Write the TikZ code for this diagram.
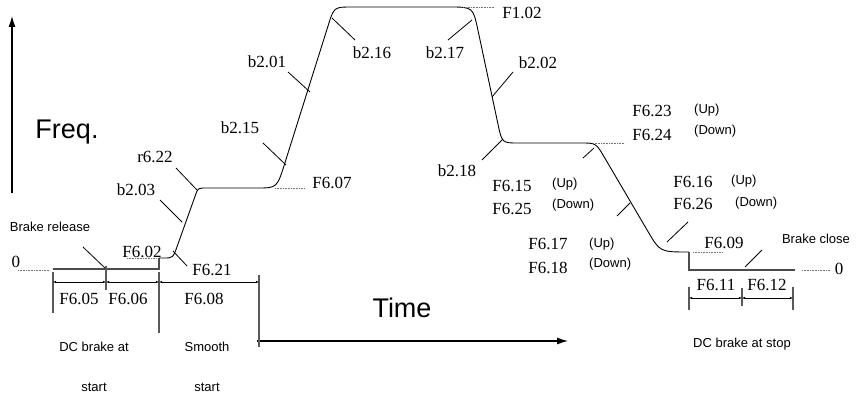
\documentclass[tikz,border=0pt]{standalone}
\usepackage{fontspec}
\setmainfont{Liberation Serif}
\setsansfont{Liberation Sans}
\usetikzlibrary{arrows.meta,calc}
\begin{document}
\begin{tikzpicture}[x=1pt,y=-1pt,
  fcurve/.style={line width=0.9pt,black},
  gline/.style={line width=1.4pt,black!70},
  leader/.style={line width=0.8pt,black},
  dotl/.style={line width=0.9pt,black!55,dash pattern=on 0.8pt off 0.8pt},
  dimv/.style={line width=1.3pt,black!65},
  dimline/.style={line width=0.7pt,black,{Latex[length=3pt,width=2.4pt]}-{Latex[length=3pt,width=2.4pt]}},
  lbl/.style={font=\fontsize{17}{17}\selectfont, inner sep=0pt, text height=11.5pt, text depth=0pt},
  sm/.style={font=\sffamily\fontsize{13}{13}\selectfont, inner sep=0pt, text height=9.3pt, text depth=0pt},
  bigtxt/.style={font=\sffamily\fontsize{27}{27}\selectfont, inner sep=0pt, anchor=base},
  axarrow/.style={line width=1.1pt,-{Latex[length=11pt,width=7pt]}}
]
\useasboundingbox (0,0) rectangle (857,396);

% axes
\coordinate (fbot) at (12,193); \coordinate (ftop) at (12,16);
\draw[axarrow] (fbot) -- (ftop);
\coordinate (tl) at (257,341); \coordinate (tr) at (568,341);
\draw[axarrow] (tl) -- (tr);
\node[bigtxt] (freq) at (67,138) {Freq.};
\node[bigtxt] (time) at (402,317) {Time};

% curve corner points
\coordinate (b0) at (53,269); \coordinate (b1) at (159,269); \coordinate (b2) at (159,258);
\coordinate (c1) at (173,258); \coordinate (c2) at (198,188);
\coordinate (c3) at (277,188); \coordinate (c4) at (334,7);
\coordinate (c5) at (473,7); \coordinate (c6) at (502,143);
\coordinate (c7) at (596,143); \coordinate (c8) at (660,252);
\coordinate (e1) at (689,252); \coordinate (e2) at (689,270); \coordinate (e3) at (795,270);

\draw[gline] (b0) -- (b1) -- (b2);
\draw[fcurve] (b2) -- ($(c1)!9pt!(b2)$) .. controls (c1) .. ($(c1)!13pt!(c2)$)
 -- ($(c2)!8pt!(c1)$) .. controls (c2) .. ($(c2)!8pt!(c3)$)
 -- ($(c3)!20pt!(c2)$) .. controls (c3) .. ($(c3)!26pt!(c4)$)
 -- ($(c4)!19pt!(c3)$) .. controls (c4) .. ($(c4)!18pt!(c5)$)
 -- ($(c5)!24pt!(c4)$) .. controls (c5) .. ($(c5)!24pt!(c6)$)
 -- ($(c6)!20pt!(c5)$) .. controls (c6) .. ($(c6)!16pt!(c7)$)
 -- ($(c7)!15pt!(c6)$) .. controls (c7) .. ($(c7)!17pt!(c8)$)
 -- ($(c8)!24pt!(c7)$) .. controls (c8) .. (e1);
\draw[gline] (e1) -- (e2) -- (e3);

% dotted level lines
\coordinate (z0a) at (18,270); \coordinate (z0b) at (50,270);
\draw[dotl] (z0a) -- (z0b);
\coordinate (d02a) at (127,258); \coordinate (d02b) at (157,258);
\draw[dotl] (d02a) -- (d02b);
\coordinate (d07a) at (275,188); \coordinate (d07b) at (305,188);
\draw[dotl] (d07a) -- (d07b);
\coordinate (d102a) at (463,7); \coordinate (d102b) at (495,7);
\draw[dotl] (d102a) -- (d102b);
\coordinate (d24a) at (593,143); \coordinate (d24b) at (625,143);
\draw[dotl] (d24a) -- (d24b);
\coordinate (d09a) at (693,252); \coordinate (d09b) at (723,252);
\draw[dotl] (d09a) -- (d09b);
\coordinate (z1a) at (802,270); \coordinate (z1b) at (830,270);
\draw[dotl] (z1a) -- (z1b);

% leader ticks
\coordinate (br1) at (83,247); \coordinate (br2) at (106,269);
\draw[leader] (br1) -- (br2);
\coordinate (t21a) at (173,251); \coordinate (t21b) at (187,266);
\draw[leader] (t21a) -- (t21b);
\coordinate (t03a) at (160,200); \coordinate (t03b) at (182,222);
\draw[leader] (t03a) -- (t03b);
\coordinate (t22a) at (176,168); \coordinate (t22b) at (197,190);
\draw[leader] (t22a) -- (t22b);
\coordinate (t15a) at (263,143); \coordinate (t15b) at (286,165);
\draw[leader] (t15a) -- (t15b);
\coordinate (t01a) at (288,72); \coordinate (t01b) at (310,92);
\draw[leader] (t01a) -- (t01b);
\coordinate (t16a) at (332,18); \coordinate (t16b) at (355,40);
\draw[leader] (t16a) -- (t16b);
\coordinate (t17a) at (472,20); \coordinate (t17b) at (448,40);
\draw[leader] (t17a) -- (t17b);
\coordinate (t02a) at (492,97); \coordinate (t02b) at (513,72);
\draw[leader] (t02a) -- (t02b);
\coordinate (t18a) at (503,139); \coordinate (t18b) at (482,160);
\draw[leader] (t18a) -- (t18b);
\coordinate (tu15a) at (594,148); \coordinate (tu15b) at (583,158);
\draw[leader] (tu15a) -- (tu15b);
\coordinate (tu17a) at (630,203); \coordinate (tu17b) at (617,216);
\draw[leader] (tu17a) -- (tu17b);
\coordinate (tu16a) at (667,242); \coordinate (tu16b) at (688,222);
\draw[leader] (tu16a) -- (tu16b);
\coordinate (bc1) at (745,267); \coordinate (bc2) at (762,250);
\draw[leader] (bc1) -- (bc2);

% left dimensions
\coordinate (v1t) at (53,272); \coordinate (v1b) at (53,313);
\coordinate (v2t) at (106,266); \coordinate (v2b) at (106,290);
\coordinate (v3t) at (159,272); \coordinate (v3b) at (159,333);
\coordinate (v4t) at (259,275); \coordinate (v4b) at (259,347);
\draw[dimv] (v1t) -- (v1b);
\draw[dimv] (v2t) -- (v2b);
\draw[dimv] (v3t) -- (v3b);
\draw[dimv] (v4t) -- (v4b);
\coordinate (h1) at (53,282); \coordinate (h2) at (106,282);
\coordinate (h3) at (159,282); \coordinate (h4) at (259,282);
\draw[dimline] (h1) -- (h2);
\draw[dimline] (h2) -- (h3);
\draw[dimline] (h3) -- (h4);

% right dimensions
\coordinate (w1t) at (689,287); \coordinate (w1b) at (689,310);
\coordinate (w2t) at (742,288); \coordinate (w2b) at (742,306);
\coordinate (w3t) at (793,287); \coordinate (w3b) at (793,310);
\draw[dimv] (w1t) -- (w1b);
\draw[dimv] (w2t) -- (w2b);
\draw[dimv] (w3t) -- (w3b);
\coordinate (k1) at (689,298); \coordinate (k2) at (742,298); \coordinate (k3) at (793,298);
\draw[dimline] (k1) -- (k2);
\draw[dimline] (k2) -- (k3);

% serif labels
\node[lbl] (zl) at (16,262) {0};
\node[lbl] (zr) at (839,269) {0};
\node[lbl] (f602) at (142,252) {F6.02};
\node[lbl] (f621) at (212,270) {F6.21};
\node[lbl] (f605) at (79,299) {F6.05};
\node[lbl] (f606) at (128,299) {F6.06};
\node[lbl] (f608) at (204,299) {F6.08};
\node[lbl] (f607) at (332,183) {F6.07};
\node[lbl] (b215) at (240,128) {b2.15};
\node[lbl] (r622) at (155,157) {r6.22};
\node[lbl] (b203) at (136,190) {b2.03};
\node[lbl] (b201) at (267,62) {b2.01};
\node[lbl] (b216) at (372,53) {b2.16};
\node[lbl] (b217) at (445,53) {b2.17};
\node[lbl] (f102) at (522,13) {F1.02};
\node[lbl] (b202) at (538,63) {b2.02};
\node[lbl] (b218) at (457,171) {b2.18};
\node[lbl] (f623) at (652,111) {F6.23};
\node[lbl] (f624) at (652,135) {F6.24};
\node[lbl] (f615) at (512,186) {F6.15};
\node[lbl] (f625) at (512,209) {F6.25};
\node[lbl] (f617) at (548,244) {F6.17};
\node[lbl] (f618) at (548,268) {F6.18};
\node[lbl] (f616) at (693,182) {F6.16};
\node[lbl] (f626) at (693,204) {F6.26};
\node[lbl] (f609) at (724,243) {F6.09};
\node[lbl] (f611) at (716,285) {F6.11};
\node[lbl] (f612) at (767,285) {F6.12};

% sans labels
\node[sm,anchor=west] (up1) at (694,109) {(Up)};
\node[sm,anchor=west] (dn1) at (694,130) {(Down)};
\node[sm,anchor=west] (up2) at (552,183) {(Up)};
\node[sm,anchor=west] (dn2) at (552,204) {(Down)};
\node[sm,anchor=west] (up3) at (589,243) {(Up)};
\node[sm,anchor=west] (dn3) at (589,263) {(Down)};
\node[sm,anchor=west] (up4) at (731,180) {(Up)};
\node[sm,anchor=west] (dn4) at (735,202) {(Down)};
\node[sm] (brel) at (50,227) {Brake release};
\node[sm] (bclo) at (816,239) {Brake close};
\node[sm] (dcs1) at (94,347) {DC brake at};
\node[sm] (dcs2) at (94,387) {start};
\node[sm] (sm1) at (207,347) {Smooth};
\node[sm] (sm2) at (207,387) {start};
\node[sm] (dcst) at (742,343) {DC brake at stop};
\end{tikzpicture}
\end{document}
